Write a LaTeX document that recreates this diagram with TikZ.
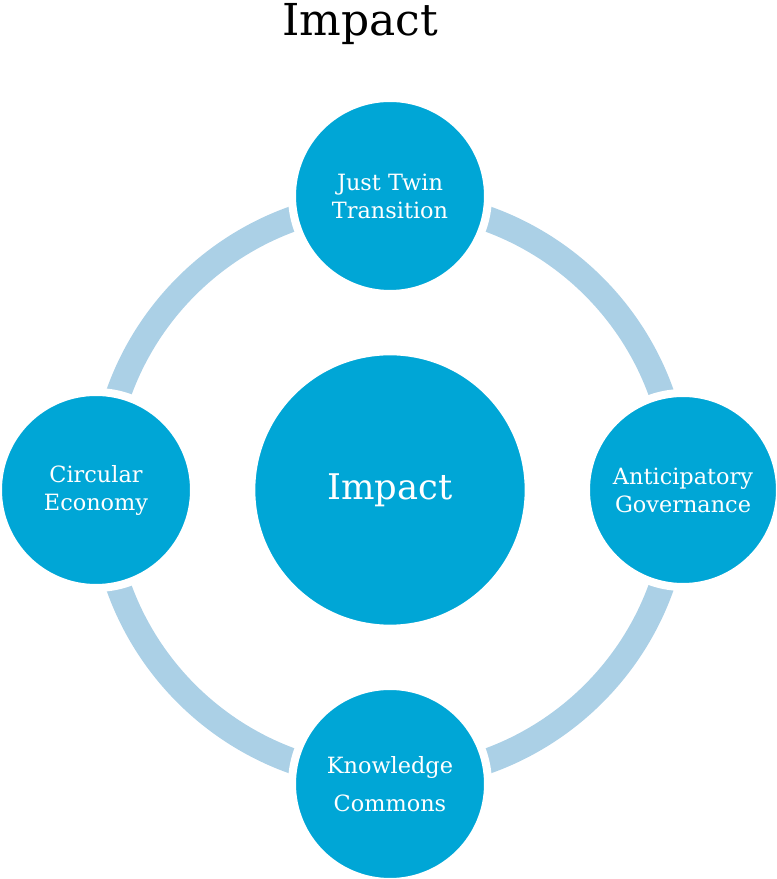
\documentclass[tikz,border=0pt]{standalone}
\usepackage{fontspec}
\setmainfont{DejaVu Serif}
\definecolor{bubble}{RGB}{0,166,214}
\definecolor{ring}{RGB}{171,208,230}

\begin{document}
\begin{tikzpicture}[x=0.75pt,y=0.75pt,
  hub/.style={circle,fill=bubble,draw=white,line width=6pt,inner sep=0pt,
    text=white,align=center,minimum size=147pt,
    font=\fontsize{16.8}{21}\selectfont}]
\useasboundingbox (0,0) rectangle (776,879);

% title
\node (title) at (360,855) {\fontsize{33}{40}\selectfont Impact};

% ring behind the bubbles
\draw[ring,line width=19pt] (390,389) circle (288);

% bubbles
\node[hub,minimum size=208pt] (impact) at (390,389) {\fontsize{26.5}{30}\selectfont Impact};
\node[hub] (twin) at (390,683) {Just Twin\\Transition};
\node[hub] (circ) at (96,389) {Circular\\Economy};
\node[hub,minimum size=145.5pt] (antic) at (683,389) {Anticipatory\\Governance};
\node[hub] (know) at (390,95) {Knowledge\\[7.5pt]Commons};

\end{tikzpicture}
\end{document}
